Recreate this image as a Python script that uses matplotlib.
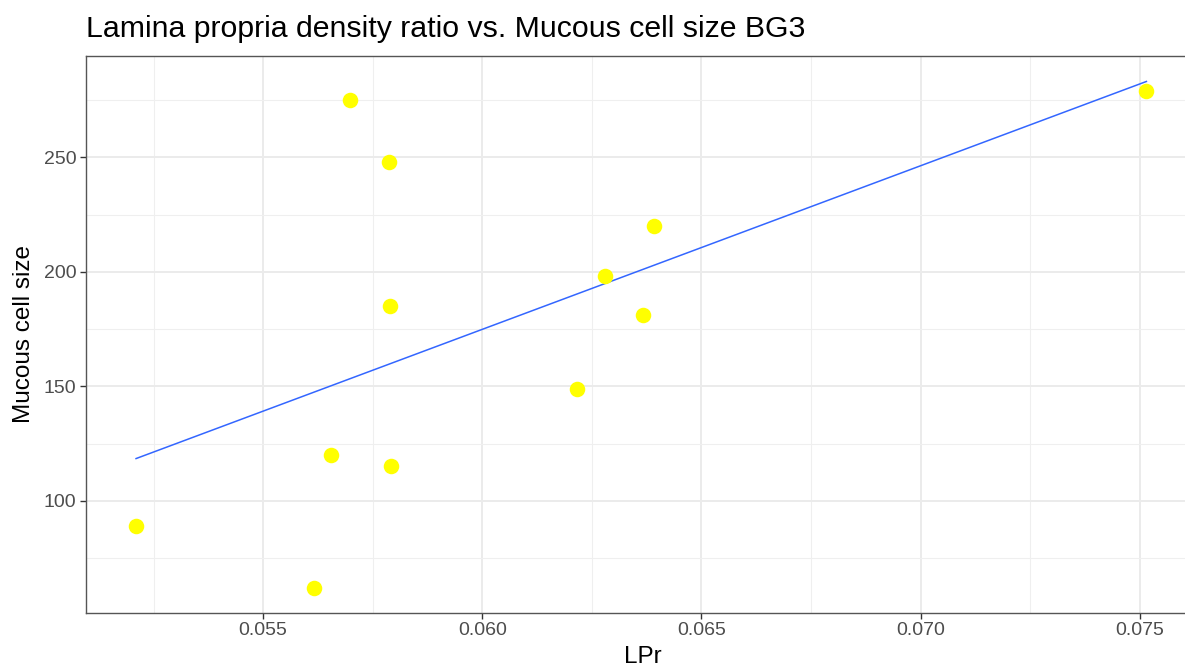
import matplotlib
matplotlib.use("Agg")
import matplotlib.pyplot as plt
import numpy as np

plt.rcParams['font.family'] = ['Liberation Sans', 'DejaVu Sans']

# LPr (lamina propria density ratio) vs mucous cell size, BG3
lpr = [0.05210, 0.05616, 0.05654, 0.05698, 0.05787, 0.05789, 0.05791,
       0.06217, 0.06280, 0.06366, 0.06391, 0.07515]
cell_size = [89, 62, 120, 275, 248, 185, 115, 149, 198, 181, 220, 279]

x_ticks = [0.055, 0.060, 0.065, 0.070, 0.075]
x_tick_labels = ["0.055", "0.060", "0.065", "0.070", "0.075"]
y_ticks = [100, 150, 200, 250]

W, H = 1185, 667
fig = plt.figure(figsize=(W / 100, H / 100), dpi=100)
ax = fig.add_axes([86 / W, (H - 612.7) / H, (1199 - 86) / W, (612.7 - 55.7) / H])

# linear fit like geom_smooth(method = "lm", se = FALSE)
slope, intercept = np.polyfit(lpr, cell_size, 1)
x_line = np.linspace(min(lpr), max(lpr), 100)
ax.plot(x_line, slope * x_line + intercept, color='#3366FF', linewidth=1.1, zorder=3)

ax.scatter(lpr, cell_size, color='#FFFF00', s=125, linewidths=0, zorder=4)

ax.set_xlim(0.050958, 0.07635)
ax.set_ylim(51.1, 294.4)
ax.set_xticks(x_ticks)
ax.set_xticklabels(x_tick_labels)
ax.set_yticks(y_ticks)
ax.set_xticks([0.0525, 0.0575, 0.0625, 0.0675, 0.0725], minor=True)
ax.set_yticks([75, 125, 175, 225, 275], minor=True)

ax.grid(True, which='major', color='#EBEBEB', linewidth=1.4, zorder=0)
ax.grid(True, which='minor', color='#EFEFEF', linewidth=0.8, zorder=0)
ax.set_axisbelow(True)
ax.tick_params(which='major', length=4, width=1.0, color='#333333',
               labelsize=14, labelcolor='#4D4D4D', pad=3)
ax.tick_params(which='minor', length=0)
for sp in ax.spines.values():
    sp.set_color('#555555')
    sp.set_linewidth(1.0)

ax.set_xlabel('LPr', fontsize=17.5, color='black', labelpad=5)
ax.set_ylabel('Mucous cell size', fontsize=17.5, color='black', labelpad=6)
fig.text(86 / W, 1 - 37 / H, 'Lamina propria density ratio vs. Mucous cell size BG3',
         fontsize=21.8, ha='left', va='baseline')

fig.savefig('out.png', dpi=100)
